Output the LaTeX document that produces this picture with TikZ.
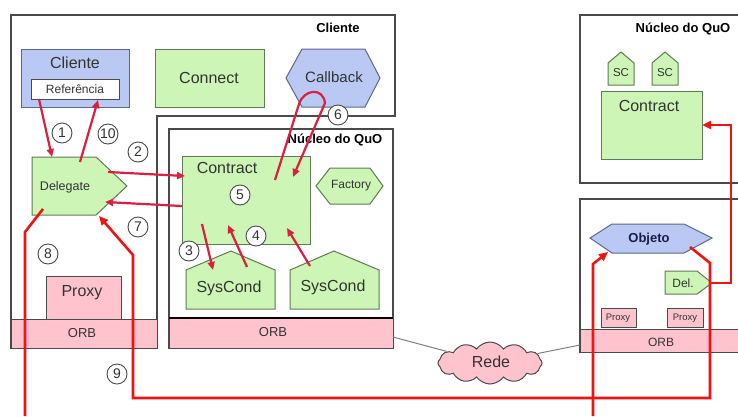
\documentclass[tikz,border=0pt]{standalone}
\usepackage{fontspec}
\setmainfont{Liberation Sans}
\usetikzlibrary{shapes.symbols,arrows.meta}

\definecolor{boxblue}{HTML}{B9C9F3}
\definecolor{boxgreen}{HTML}{CDF5B5}
\definecolor{boxpink}{HTML}{FFC3CD}
\definecolor{edgegray}{HTML}{4A4A4A}
\definecolor{greenedge}{HTML}{607A55}
\definecolor{blueedge}{HTML}{5C6890}
\definecolor{flowred}{HTML}{DA1F3F}
\definecolor{pathred}{HTML}{F21212}
\definecolor{textgray}{HTML}{333333}
\definecolor{navytext}{HTML}{1C1C48}

\tikzset{
  frame/.style={draw=edgegray, line width=1.2pt},
  bluebox/.style={fill=boxblue, draw=blueedge, line width=1pt},
  greenbox/.style={fill=boxgreen, draw=greenedge, line width=1pt},
  pinkbox/.style={fill=boxpink, draw=edgegray, line width=1pt},
  whitebox/.style={fill=white, draw=edgegray, line width=1pt},
  lbl/.style={text=textgray, inner sep=0pt},
  title/.style={text=black, inner sep=0pt, font=\bfseries\fontsize{13}{15}\selectfont},
  num/.style={circle, draw=edgegray, line width=0.9pt, fill=white, minimum size=20pt,
    inner sep=0pt, text=textgray, font=\fontsize{14}{14}\selectfont},
  flow/.style={draw=flowred, line width=2.2pt, -{Triangle[length=8pt,width=7pt]}},
  route/.style={draw=pathred, line width=2.6pt},
  routearrow/.style={route, -{Triangle[length=9pt,width=8pt]}},
  wire/.style={draw=gray, line width=1pt},
}

\begin{document}
\begin{tikzpicture}[x=1pt,y=-1pt]
\useasboundingbox (0,0) rectangle (738,416);
\fill[white] (0,0) rectangle (738,416);

% ---------------- client host ----------------
\draw[frame] (157,116) -- (395,116) -- (395,15) -- (11,15) -- (11,348) -- (157,348) -- cycle;
\draw[pinkbox] (11,319) rectangle (157,348);
\node[lbl, font=\fontsize{13}{15}\selectfont] (orbA) at (82,333) {ORB};
\node[title] (tcli) at (338,28) {Cliente};

\draw[bluebox] (21,49) rectangle (129,107);
\node[lbl, font=\fontsize{16}{18}\selectfont] (cliente) at (75,63) {Cliente};
\draw[whitebox] (31,79) rectangle (119,99);
\node[lbl, font=\fontsize{12}{14}\selectfont] (ref) at (75,89) {Referência};

\draw[greenbox] (155,49) rectangle (264,107);
\node[lbl, font=\fontsize{16}{18}\selectfont] (connect) at (209,78) {Connect};

\draw[bluebox] (286,78) -- (302,49) -- (365,49) -- (380,78) -- (365,107) -- (302,107) -- cycle;
\node[lbl, font=\fontsize{15}{17}\selectfont] (callback) at (334,77) {Callback};

\draw[greenbox] (32,157) -- (96,157) -- (127,186) -- (96,215) -- (32,215) -- cycle;
\node[lbl, font=\fontsize{12.5}{14}\selectfont] (delegate) at (65,187) {Delegate};

\draw[pinkbox] (46,276) rectangle (121,319);
\node[lbl, font=\fontsize{16}{18}\selectfont] (proxyA) at (82,293) {Proxy};

% ---------------- QuO kernel on the client ----------------
\draw[frame] (169,129) rectangle (393,348);
\draw[pinkbox] (169,318) rectangle (393,348);
\draw[draw=black, line width=2.4pt] (169,318) -- (393,318);
\node[lbl, font=\fontsize{13}{15}\selectfont] (orbB) at (273,332) {ORB};
\node[title] (tnuc) at (335,140) {Núcleo do QuO};

\draw[greenbox] (182,156) rectangle (310,244);
\node[lbl, font=\fontsize{16}{18}\selectfont] (contract) at (227,168) {Contract};

\draw[greenbox] (316,186) -- (330,168) -- (370,168) -- (383,186) -- (370,204) -- (330,204) -- cycle;
\node[lbl, font=\fontsize{12}{14}\selectfont] (factory) at (351,186) {Factory};

\draw[greenbox] (186,309) -- (186,270) -- (231,251) -- (275,270) -- (275,309) -- cycle;
\node[lbl, font=\fontsize{16}{18}\selectfont] (sysA) at (229,288) {SysCond};
\draw[greenbox] (290,309) -- (290,270) -- (334,251) -- (379,270) -- (379,309) -- cycle;
\node[lbl, font=\fontsize{16}{18}\selectfont] (sysB) at (333,287) {SysCond};

% ---------------- server side ----------------
\draw[frame] (738,15) -- (580,15) -- (580,183) -- (738,183);
\node[title] (tnucS) at (683,29) {Núcleo do QuO};
\draw[greenbox] (608,85) -- (608,63) -- (621,52) -- (634,63) -- (634,85) -- cycle;
\node[lbl, font=\fontsize{11.5}{13}\selectfont] (scA) at (621,73) {SC};
\draw[greenbox] (652,85) -- (652,63) -- (665,52) -- (678,63) -- (678,85) -- cycle;
\node[lbl, font=\fontsize{11.5}{13}\selectfont] (scB) at (665,73) {SC};
\draw[greenbox] (601,91) rectangle (702,159);
\node[lbl, font=\fontsize{16}{18}\selectfont] (contractS) at (649,106) {Contract};

\draw[frame] (738,199) -- (580,199) -- (580,352) -- (738,352);
\draw[pinkbox] (738,329) -- (580,329) -- (580,352) -- (738,352);
\node[lbl, font=\fontsize{12}{14}\selectfont] (orbS) at (661,342) {ORB};
\draw[bluebox] (590,238) -- (612,224) -- (684,224) -- (712,238) -- (684,253) -- (612,253) -- cycle;
\node[inner sep=0pt, text=navytext, font=\bfseries\fontsize{13}{15}\selectfont] (objeto) at (649,239) {Objeto};
\draw[greenbox] (665,271) -- (697,271) -- (712,283) -- (697,294) -- (665,294) -- cycle;
\node[lbl, font=\fontsize{12}{14}\selectfont] (del) at (683,283) {Del.};
\draw[pinkbox] (601,308) rectangle (636,327);
\node[lbl, font=\fontsize{9.5}{11}\selectfont] (proxyS1) at (618,318) {Proxy};
\draw[pinkbox] (667,308) rectangle (703,327);
\node[lbl, font=\fontsize{9.5}{11}\selectfont] (proxyS2) at (685,318) {Proxy};

% ---------------- network ----------------
\node[cloud, cloud puffs=12, cloud puff arc=110, aspect=2.4, fill=boxpink, draw=edgegray,
  line width=1pt, minimum width=104pt, minimum height=42pt, inner sep=0pt] (rede) at (490,363) {};
\node[lbl, font=\fontsize{16}{18}\selectfont] (redetxt) at (491,362) {Rede};
\coordinate (orbRight) at (393,337);
\coordinate (srvLeft) at (580,345);
\draw[wire] (orbRight) -- (rede);
\draw[wire] (rede) -- (srvLeft);

% ---------------- interaction arrows ----------------
\coordinate (ref1) at (39,99);   \coordinate (del1) at (52,157);
\coordinate (del10) at (80,162); \coordinate (ref10) at (98,100);
\coordinate (del2) at (108,172); \coordinate (con2) at (185,176);
\coordinate (con7) at (182,206); \coordinate (del7) at (105,202);
\coordinate (con3) at (202,224); \coordinate (sys3) at (213,270);
\coordinate (sys4a) at (247,267); \coordinate (con4a) at (228,225);
\coordinate (sys4b) at (310,266); \coordinate (con4b) at (287,228);
\coordinate (con6a) at (275,180); \coordinate (con6b) at (293,177);

\draw[flow] (ref1) -- (del1);
\draw[flow] (del10) -- (ref10);
\draw[flow] (del2) -- (con2);
\draw[flow] (con7) -- (del7);
\draw[flow] (con3) -- (sys3);
\draw[flow] (sys4a) -- (con4a);
\draw[flow] (sys4b) -- (con4b);
\draw[flow] (con6a) -- (299,104) .. controls (304,89) and (323,87) .. (325,103) -- (con6b);

% ---------------- remote request path ----------------
\coordinate (del8) at (43,209);
\coordinate (out8) at (25,416);
\coordinate (in8) at (593,416);
\coordinate (obj8) at (608,252);
\draw[route, line join=miter] (del8) -- (25,232) -- (out8);
\draw[routearrow, line join=miter] (in8) -- (593,264) -- (obj8);

\coordinate (obj9) at (690,247);
\coordinate (del9) at (99,216);
\draw[routearrow, line join=miter] (obj9) -- (710,263) -- (710,398) -- (133,398) -- (133,255) -- (del9);

\coordinate (delS) at (712,283);
\coordinate (conS) at (702,125);
\draw[routearrow, line join=miter] (delS) -- (731,283) -- (731,125) -- (conS);

% ---------------- step numbers ----------------
\node[num] (n1) at (62,133) {1};
\node[num] (n10) at (108,134) {10};
\node[num] (n2) at (138,152) {2};
\node[num] (n6) at (338,115) {6};
\node[num] (n5) at (240,195) {5};
\node[num] (n7) at (138,227) {7};
\node[num] (n3) at (189,251) {3};
\node[num] (n4) at (256,236) {4};
\node[num] (n8) at (48,254) {8};
\node[num] (n9) at (117,374) {9};
\end{tikzpicture}
\end{document}
